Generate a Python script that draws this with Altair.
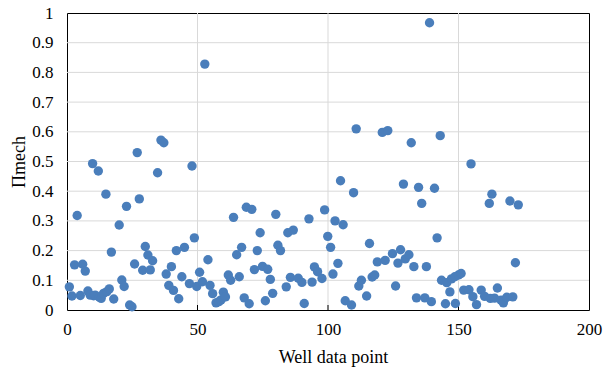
import altair as alt
import pandas as pd

well_index = [
    0.9, 1.9, 2.9, 3.9, 5.1, 6.0, 7.0, 8.0, 8.9, 9.8, 10.2, 10.8, 12.0, 12.4, 13.1, 14.0,
    14.9, 15.3, 16.2, 17.0, 17.9, 20.0, 21.0, 21.9, 22.8, 24.0, 24.9, 25.9, 26.9, 27.7,
    29.0, 30.0, 31.0, 31.9, 32.8, 34.7, 36.0, 37.1, 38.0, 39.0, 40.0, 40.8, 41.9, 42.8,
    44.0, 45.0, 46.9, 47.9, 48.8, 49.7, 50.8, 51.9, 52.8, 54.0, 54.8, 55.8, 57.1, 58.2,
    59.0, 59.9, 60.7, 61.8, 62.7, 63.8, 65.0, 66.0, 66.9, 67.9, 68.7, 69.8, 70.8, 71.8,
    72.9, 74.0, 74.9, 76.0, 76.9, 77.9, 78.8, 80.0, 80.8, 81.8, 84.0, 84.6, 85.6, 86.7,
    88.6, 90.0, 90.9, 92.7, 93.9, 94.8, 96.0, 97.7, 98.7, 99.9, 101.0, 101.9, 102.7,
    103.8, 104.8, 105.8, 106.6, 109.0, 109.8, 110.8, 111.8, 112.8, 114.8, 115.9, 116.9,
    117.9, 118.9, 120.8, 121.9, 122.9, 124.7, 125.9, 126.8, 127.8, 128.9, 129.6, 131.0,
    131.9, 132.9, 133.9, 134.7, 135.9, 137.1, 137.7, 138.9, 139.6, 140.8, 141.8, 143.0,
    143.5, 145.0, 145.5, 146.7, 147.3, 148.6, 148.8, 150.0, 151.0, 152.0, 154.0, 154.8,
    155.5, 156.9, 158.7, 160.0, 161.8, 162.2, 162.8, 163.8, 164.9, 166.3, 167.2, 168.5,
    169.7, 170.8, 171.8, 172.9,
]
pi_mech = [
    0.078, 0.047, 0.152, 0.318, 0.049, 0.154, 0.131, 0.064, 0.050, 0.493, 0.048, 0.050,
    0.468, 0.043, 0.039, 0.056, 0.390, 0.062, 0.071, 0.195, 0.037, 0.286, 0.101, 0.079,
    0.349, 0.017, 0.011, 0.155, 0.530, 0.374, 0.134, 0.214, 0.185, 0.135, 0.166, 0.462,
    0.572, 0.563, 0.121, 0.083, 0.146, 0.066, 0.200, 0.038, 0.112, 0.211, 0.089, 0.485,
    0.243, 0.079, 0.127, 0.095, 0.828, 0.169, 0.083, 0.055, 0.024, 0.028, 0.034, 0.060,
    0.044, 0.118, 0.100, 0.312, 0.186, 0.112, 0.211, 0.041, 0.346, 0.021, 0.339, 0.136,
    0.200, 0.260, 0.147, 0.031, 0.137, 0.103, 0.056, 0.322, 0.218, 0.200, 0.078, 0.260,
    0.110, 0.269, 0.107, 0.093, 0.022, 0.307, 0.094, 0.145, 0.129, 0.106, 0.337, 0.248,
    0.211, 0.121, 0.300, 0.157, 0.435, 0.287, 0.031, 0.017, 0.395, 0.610, 0.081, 0.100,
    0.047, 0.224, 0.111, 0.118, 0.162, 0.598, 0.167, 0.604, 0.190, 0.081, 0.158, 0.203,
    0.424, 0.172, 0.186, 0.563, 0.146, 0.041, 0.413, 0.359, 0.041, 0.146, 0.967, 0.028,
    0.410, 0.243, 0.587, 0.100, 0.021, 0.092, 0.061, 0.105, 0.112, 0.022, 0.118, 0.123,
    0.067, 0.068, 0.492, 0.045, 0.018, 0.067, 0.046, 0.359, 0.039, 0.390, 0.040, 0.074,
    0.033, 0.024, 0.043, 0.367, 0.044, 0.159, 0.354,
]

x_ticks = [0, 50, 100, 150, 200]
y_ticks = [0, 0.1, 0.2, 0.3, 0.4, 0.5, 0.6, 0.7, 0.8, 0.9, 1]
x_grid = [50, 100, 150]
y_grid = [0.1, 0.2, 0.3, 0.4, 0.5, 0.6, 0.7, 0.8, 0.9]

df = pd.DataFrame({"x": well_index, "y": pi_mech})
df_xgrid = pd.DataFrame({"x": x_grid})
df_ygrid = pd.DataFrame({"y": y_grid})

FONT = "Liberation Serif"
GRID = "#d9d9d9"

x_scale = alt.Scale(domain=[0, 200], nice=False, zero=False, padding=0)
y_scale = alt.Scale(domain=[0, 1], nice=False, zero=True, padding=0)

x_axis = alt.Axis(
    values=x_ticks,
    title="Well data point",
    titleFont=FONT,
    titleFontSize=18,
    titleFontWeight="normal",
    titleColor="black",
    titleX=266,
    titleY=52,
    titleAlign="center",
    titleBaseline="alphabetic",
    labelFont=FONT,
    labelFontSize=17,
    labelColor="black",
    labelPadding=11,
    labelFlush=False,
    ticks=False,
    domain=False,
    grid=False,
)
y_axis = alt.Axis(
    values=y_ticks,
    format="~g",
    title="Πmech",
    titleFont=FONT,
    titleFontSize=18,
    titleFontWeight="normal",
    titleColor="black",
    titleAngle=-90,
    titleX=-43,
    titleY=148.5,
    titleAlign="center",
    titleBaseline="alphabetic",
    labelFont=FONT,
    labelFontSize=17,
    labelColor="black",
    labelPadding=14,
    labelFlush=False,
    ticks=False,
    domain=False,
    grid=False,
)

h_grid = alt.Chart(df_ygrid).mark_rule(color=GRID, strokeWidth=1).encode(
    y=alt.Y("y:Q", scale=y_scale, axis=y_axis)
)
v_grid = alt.Chart(df_xgrid).mark_rule(color=GRID, strokeWidth=1).encode(
    x=alt.X("x:Q", scale=x_scale, axis=x_axis)
)
inner_ticks = alt.Chart(df_xgrid).mark_rule(color="black", strokeWidth=1).encode(
    x=alt.X("x:Q", scale=x_scale, axis=x_axis),
    y=alt.value(297),
    y2=alt.value(292),
)

points = alt.Chart(df).mark_circle(size=88, opacity=1, color="#4A7EBB").encode(
    x=alt.X("x:Q", scale=x_scale, axis=x_axis),
    y=alt.Y("y:Q", scale=y_scale, axis=y_axis),
)

chart = (
    alt.layer(h_grid, v_grid, inner_ticks, points)
    .properties(
        width=522,
        height=297,
        padding={"left": 67, "top": 13, "right": 15, "bottom": 60},
        autosize=alt.AutoSizeParams(type="none"),
        background="white",
    )
    .configure_view(stroke="black", strokeWidth=1)
)

chart.save("out.html", embed_options={"renderer": "svg", "actions": False})
